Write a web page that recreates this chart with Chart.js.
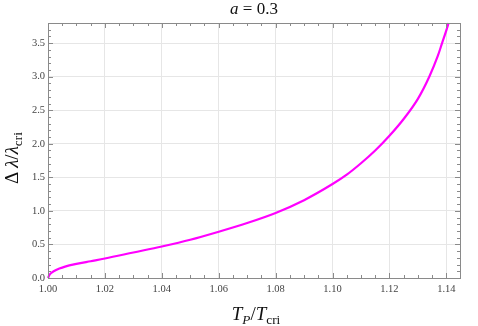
<!DOCTYPE html>
<html>
<head>
<meta charset="utf-8">
<script src="https://cdn.jsdelivr.net/npm/chart.js@4/dist/chart.umd.min.js"></script>
<style>
  html, body { margin: 0; padding: 0; background: #fff; }
  #wrap { width: 478px; height: 326px; }
</style>
</head>
<body>
<div id="wrap"><canvas id="chart" width="478" height="326"></canvas></div>
<script>
// values
const tRatio = [1.000, 1.0005, 1.001, 1.002, 1.004, 1.006, 1.010, 1.015, 1.020, 1.030, 1.040, 1.050,
  1.060, 1.070, 1.080, 1.090, 1.100, 1.105, 1.110, 1.115, 1.120, 1.125, 1.130, 1.134, 1.137, 1.1385, 1.140, 1.1408];
const dLambda = [0.00, 0.045, 0.07, 0.10, 0.14, 0.17, 0.21, 0.25, 0.29, 0.38, 0.47, 0.57,
  0.69, 0.82, 0.97, 1.16, 1.40, 1.54, 1.71, 1.90, 2.12, 2.37, 2.67, 3.00, 3.31, 3.50, 3.69, 3.80];
const xTicks = [1.00, 1.02, 1.04, 1.06, 1.08, 1.10, 1.12, 1.14];
const yTicks = [0.0, 0.5, 1.0, 1.5, 2.0, 2.5, 3.0, 3.5];
const xRange = [1.0, 1.1448];
const yRange = [0, 3.8];
const xMinorStep = 0.005;
const yMinorStep = 0.1;

const SERIF = "'Liberation Serif', 'DejaVu Serif', serif";

// draw a row of text pieces (italic / subscript) centred on x
function richText(ctx, parts, x, y, size) {
  const fontOf = p => (p.it ? "italic " : "") + (p.sub ? size * 0.7 : size) + "px " + SERIF;
  let total = 0;
  parts.forEach(p => { ctx.font = fontOf(p); total += ctx.measureText(p.t).width; });
  let cx = x - total / 2;
  parts.forEach(p => {
    ctx.font = fontOf(p);
    ctx.fillText(p.t, cx, y + (p.sub ? size * 0.22 : 0));
    cx += ctx.measureText(p.t).width;
  });
}

const framePlugin = {
  id: "frame",
  afterDraw(chart) {
    const ctx = chart.ctx;
    const a = chart.chartArea;
    const xs = chart.scales.x, ys = chart.scales.y;
    ctx.save();
    ctx.strokeStyle = "#8a8a8a";
    ctx.lineWidth = 1;
    ctx.strokeRect(a.left + 0.5, a.top + 0.5, a.right - a.left, a.bottom - a.top);

    // inward ticks on all four sides
    ctx.beginPath();
    for (let v = xRange[0]; v <= xRange[1] + 1e-9; v += xMinorStep) {
      const major = xTicks.some(t => Math.abs(t - v) < 1e-6);
      const len = major ? 5 : 3;
      const px = Math.round(xs.getPixelForValue(v)) + 0.5;
      ctx.moveTo(px, a.bottom); ctx.lineTo(px, a.bottom - len);
      ctx.moveTo(px, a.top); ctx.lineTo(px, a.top + len);
    }
    for (let v = yRange[0]; v <= yRange[1] + 1e-9; v += yMinorStep) {
      const major = yTicks.some(t => Math.abs(t - v) < 1e-6);
      const len = major ? 5 : 3;
      const py = Math.round(ys.getPixelForValue(v)) + 0.5;
      ctx.moveTo(a.left, py); ctx.lineTo(a.left + len, py);
      ctx.moveTo(a.right, py); ctx.lineTo(a.right - len, py);
    }
    ctx.stroke();

    // titles
    ctx.fillStyle = "#111";
    ctx.textBaseline = "alphabetic";
    ctx.textAlign = "left";
    richText(ctx, [{ t: "a", it: true }, { t: " = 0.3" }], 254, 14, 17);
    richText(ctx, [{ t: "T", it: true }, { t: "P", it: true, sub: true }, { t: "/" },
      { t: "T", it: true }, { t: "cri", sub: true }], 256, 320, 19);
    ctx.translate(18, 158);
    ctx.rotate(-Math.PI / 2);
    richText(ctx, [{ t: "Δ\u2009" }, { t: "λ", it: true }, { t: "/" }, { t: "λ", it: true },
      { t: "cri", sub: true }], 0, 0, 19);
    ctx.restore();
  }
};

new Chart(document.getElementById("chart"), {
  type: "line",
  data: {
    datasets: [{
      data: tRatio.map((t, i) => ({ x: t, y: dLambda[i] })),
      borderColor: "#ff00ff",
      borderWidth: 2.2,
      pointRadius: 0,
      fill: false,
      cubicInterpolationMode: "monotone",
      clip: 2
    }]
  },
  options: {
    responsive: false,
    animation: false,
    events: [],
    layout: { padding: { left: 0, right: 18, top: 23, bottom: 0 } },
    plugins: { legend: { display: false }, tooltip: { enabled: false }, title: { display: false } },
    scales: {
      x: {
        type: "linear",
        min: xRange[0],
        max: xRange[1],
        afterBuildTicks: s => { s.ticks = xTicks.map(v => ({ value: v })); },
        afterFit: s => { s.height = 48; },
        grid: { color: "#e6e6e6", drawTicks: false },
        border: { display: false },
        ticks: {
          padding: 5,
          color: "#444",
          font: { family: SERIF, size: 10.5 },
          callback: v => v.toFixed(2)
        }
      },
      y: {
        type: "linear",
        min: yRange[0],
        max: yRange[1],
        afterBuildTicks: s => { s.ticks = yTicks.map(v => ({ value: v })); },
        afterFit: s => { s.width = 48; },
        grid: { color: "#e6e6e6", drawTicks: false },
        border: { display: false },
        ticks: {
          padding: 3,
          color: "#444",
          font: { family: SERIF, size: 10.5 },
          callback: v => v.toFixed(1)
        }
      }
    }
  },
  plugins: [framePlugin]
});
</script>
</body>
</html>
